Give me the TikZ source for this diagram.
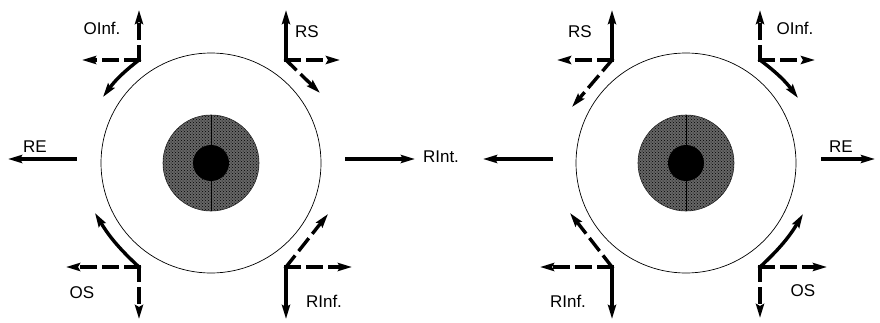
\documentclass[tikz,border=0pt]{standalone}
\usepackage{fontspec}
\setmainfont{Liberation Sans}
\usetikzlibrary{arrows.meta,patterns}
\begin{document}
\begin{tikzpicture}[x=1pt,y=1pt,
  eyeball/.style={draw=black,line width=0.7pt,fill=white},
  iris/.style={fill=black!60},
  iristex/.style={pattern=crosshatch dots,pattern color=black},
  pupil/.style={fill=black},
  act/.style={line width=3.4pt,line cap=rect,
    -{Stealth[length=14pt,width=8pt,inset=2pt]}},
  dashact/.style={act,dash pattern=on 13pt off 9pt},
  lbl/.style={font=\fontsize{17}{20}\selectfont,inner sep=0pt}]
\useasboundingbox (0,0) rectangle (880,322);

% ---------- eye centres ----------
\coordinate (L) at (211,159);
\coordinate (R) at (686,159);

% ---------- the two eyes ----------
\foreach \c in {L,R}{
  \draw[eyeball] (\c) circle[radius=110];
  \fill[iris] (\c) circle[radius=48];
  \fill[iristex] (\c) circle[radius=48];
  \draw[black!85,line width=0.6pt] (\c) circle[radius=48];
  \draw[line width=0.7pt] ([yshift=48pt]\c) -- ([yshift=-48pt]\c);
  \fill[pupil] (\c) circle[radius=18];
}

% ================= left eye =================
% horizontal recti
\coordinate (LREs) at (75,163);  \coordinate (LREe) at (8,163);
\draw[act] (LREs) -- (LREe);
\node[lbl] (LRE) at (35,175) {RE};
\coordinate (LRIs) at (347,163); \coordinate (LRIe) at (415,163);
\draw[act] (LRIs) -- (LRIe);
\node[lbl] (RInt) at (441,165) {RInt.};

% inferior oblique (upper left)
\coordinate (LOI) at (139,262);
\coordinate (LOIu) at (139,312);
\coordinate (LOIh) at (82,262);
\coordinate (LOId) at (103,225);
\draw[dashact] (LOI) -- (LOIu);
\draw[dashact] (LOI) -- (LOIh);
\draw[act] (LOI) to[bend right=8] (LOId);
\node[lbl] (LOIl) at (102,294) {OInf.};

% superior rectus (upper right)
\coordinate (LRS) at (286,262);
\coordinate (LRSu) at (286,312);
\coordinate (LRSh) at (340,262);
\coordinate (LRSd) at (320,229);
\draw[act] (LRS) -- (LRSu);
\draw[dashact] (LRS) -- (LRSh);
\draw[dashact] (LRS) -- (LRSd);
\node[lbl] (LRSl) at (307,290) {RS};

% superior oblique (lower left)
\coordinate (LOS) at (139,55);
\coordinate (LOSd) at (139,3);
\coordinate (LOSh) at (66,55);
\coordinate (LOSa) at (95,109);
\draw[dashact] (LOS) -- (LOSd);
\draw[dashact] (LOS) -- (LOSh);
\draw[act] (LOS) to[bend left=8] (LOSa);
\node[lbl] (LOSl) at (82,29) {OS};

% inferior rectus (lower right)
\coordinate (LRF) at (286,55);
\coordinate (LRFd) at (286,3);
\coordinate (LRFh) at (352,55);
\coordinate (LRFa) at (328,108);
\draw[act] (LRF) -- (LRFd);
\draw[dashact] (LRF) -- (LRFh);
\draw[dashact] (LRF) -- (LRFa);
\node[lbl] (LRFl) at (324,21) {RInf.};

% ================= right eye =================
\coordinate (RRIs) at (551,163); \coordinate (RRIe) at (483,163);
\draw[act] (RRIs) -- (RRIe);
\coordinate (RREs) at (823,163); \coordinate (RREe) at (875,163);
\draw[act] (RREs) -- (RREe);
\node[lbl] (RRE) at (841,175) {RE};

% superior rectus (upper left)
\coordinate (RRS) at (612,262);
\coordinate (RRSu) at (612,312);
\coordinate (RRSh) at (557,262);
\coordinate (RRSd) at (572,215);
\draw[act] (RRS) -- (RRSu);
\draw[dashact] (RRS) -- (RRSh);
\draw[dashact] (RRS) -- (RRSd);
\node[lbl] (RRSl) at (580,290) {RS};

% inferior oblique (upper right)
\coordinate (ROI) at (760,262);
\coordinate (ROIu) at (760,312);
\coordinate (ROIh) at (815,262);
\coordinate (ROId) at (798,224);
\draw[dashact] (ROI) -- (ROIu);
\draw[dashact] (ROI) -- (ROIh);
\draw[act] (ROI) to[bend left=8] (ROId);
\node[lbl] (ROIl) at (795,294) {OInf.};

% inferior rectus (lower left)
\coordinate (RRF) at (612,55);
\coordinate (RRFd) at (612,3);
\coordinate (RRFh) at (540,55);
\coordinate (RRFa) at (570,109);
\draw[act] (RRF) -- (RRFd);
\draw[dashact] (RRF) -- (RRFh);
\draw[dashact] (RRF) -- (RRFa);
\node[lbl] (RRFl) at (568,21) {RInf.};

% superior oblique (lower right)
\coordinate (ROS) at (760,55);
\coordinate (ROSd) at (760,4);
\coordinate (ROSh) at (827,55);
\coordinate (ROSa) at (803,108);
\draw[dashact] (ROS) -- (ROSd);
\draw[dashact] (ROS) -- (ROSh);
\draw[act] (ROS) to[bend right=8] (ROSa);
\node[lbl] (ROSl) at (803,31) {OS};
\end{tikzpicture}
\end{document}
